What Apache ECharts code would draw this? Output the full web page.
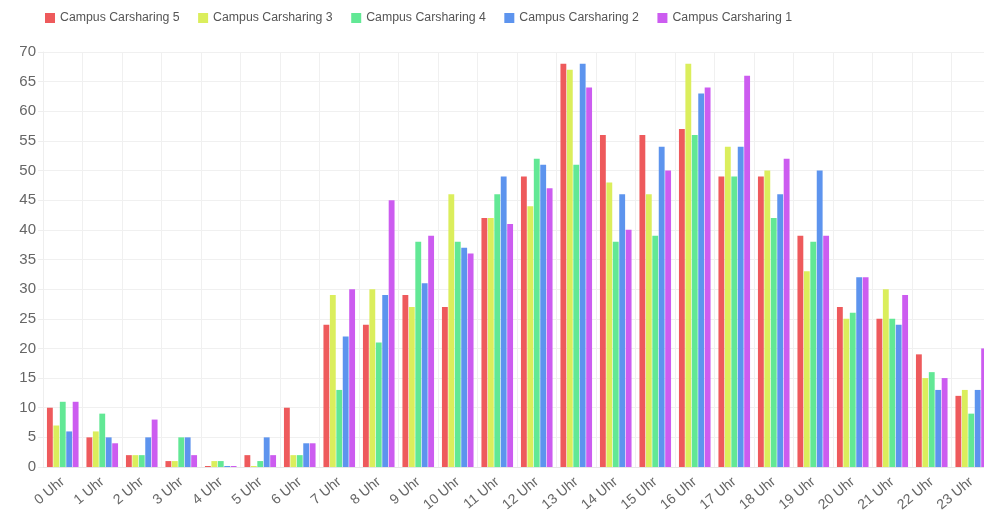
<!DOCTYPE html>
<html>
<head>
<meta charset="utf-8">
<script src="https://cdn.jsdelivr.net/npm/echarts@6/dist/echarts.min.js"></script>
<style>
  html, body { margin: 0; padding: 0; background: #fff; }
  #chart { width: 984px; height: 510px; }
</style>
</head>
<body>
<div id="chart"></div>
<script>
// Hourly bookings per carsharing station
const hours = ['0 Uhr','1 Uhr','2 Uhr','3 Uhr','4 Uhr','5 Uhr','6 Uhr','7 Uhr','8 Uhr','9 Uhr','10 Uhr','11 Uhr',
  '12 Uhr','13 Uhr','14 Uhr','15 Uhr','16 Uhr','17 Uhr','18 Uhr','19 Uhr','20 Uhr','21 Uhr','22 Uhr','23 Uhr'];

const station5 = [10, 5, 2, 1, 0, 2, 10, 24, 24, 29, 27, 42, 49, 68, 56, 56, 57, 49, 49, 39, 27, 25, 19, 12];
const station3 = [7, 6, 2, 1, 1, 0, 2, 29, 30, 27, 46, 42, 44, 67, 48, 46, 68, 54, 50, 33, 25, 30, 15, 13];
const station4 = [11, 9, 2, 5, 1, 1, 2, 13, 21, 38, 38, 46, 52, 51, 38, 39, 56, 49, 42, 38, 26, 25, 16, 9];
const station2 = [6, 5, 5, 5, 0, 5, 4, 22, 29, 31, 37, 49, 51, 68, 46, 54, 63, 54, 46, 50, 32, 24, 13, 13];
const station1 = [11, 4, 8, 2, 0, 2, 4, 30, 45, 39, 36, 41, 47, 64, 40, 50, 64, 66, 52, 39, 32, 29, 15, 20];

const yTicks = { min: 0, max: 70, interval: 5 };

const seriesDefs = [
  { name: 'Campus Carsharing 5', data: station5, color: '#ee5a5c' },
  { name: 'Campus Carsharing 3', data: station3, color: '#dbee5c' },
  { name: 'Campus Carsharing 4', data: station4, color: '#62e895' },
  { name: 'Campus Carsharing 2', data: station2, color: '#5d94ee' },
  { name: 'Campus Carsharing 1', data: station1, color: '#cc5cf0' }
];

const chart = echarts.init(document.getElementById('chart'), null, { renderer: 'canvas' });

chart.setOption({
  animation: false,
  backgroundColor: '#ffffff',
  textStyle: { fontFamily: 'Liberation Sans, Arial, Helvetica, sans-serif' },
  legend: {
    left: 45,
    top: 12,
    padding: 0,
    itemWidth: 10,
    itemHeight: 10,
    itemGap: 18.5,
    icon: 'rect',
    textStyle: { fontSize: 12.3, color: '#555' },
    data: seriesDefs.map(s => s.name)
  },
  grid: {
    left: 43,
    top: 52,
    width: 948,
    bottom: 43,
    containLabel: false,
    outerBoundsMode: 'none'
  },
  xAxis: {
    type: 'category',
    data: hours,
    boundaryGap: true,
    axisLine: { show: true, lineStyle: { color: '#e6e6e6' } },
    axisTick: { show: false },
    axisLabel: {
      rotate: 40,
      interval: 0,
      fontSize: 14,
      color: '#666',
      margin: 13
    },
    splitLine: { show: true, interval: 0, lineStyle: { color: '#f0f0f0', width: 1 } }
  },
  yAxis: {
    type: 'value',
    min: yTicks.min,
    max: yTicks.max,
    interval: yTicks.interval,
    axisLine: { show: true, lineStyle: { color: '#eeeeee' } },
    axisTick: { show: true, length: 5, lineStyle: { color: '#eeeeee' } },
    axisLabel: { fontSize: 15, color: '#666', margin: 7 },
    splitLine: { show: true, lineStyle: { color: '#f0f0f0', width: 1 } }
  },
  series: seriesDefs.map(s => ({
    name: s.name,
    type: 'bar',
    data: s.data,
    barCategoryGap: '20%',
    barGap: '10%',
    barMinHeight: 1,
    itemStyle: { color: s.color }
  }))
});
</script>
</body>
</html>
